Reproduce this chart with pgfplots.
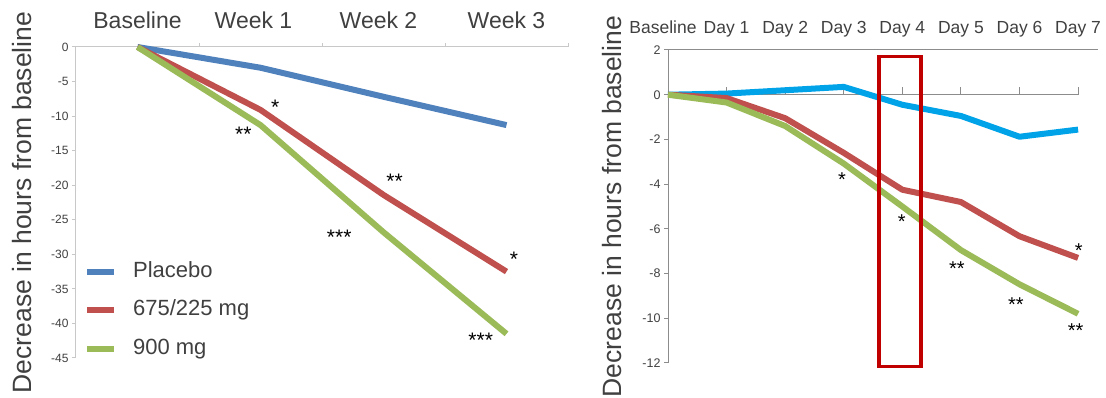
\documentclass[border=0pt]{standalone}
\usepackage{pgfplots}
\pgfplotsset{compat=1.18}
\usepackage{fontspec}
\setmainfont{Liberation Sans}
\definecolor{placeboL}{RGB}{79,129,189}
\definecolor{placeboR}{RGB}{0,162,232}
\definecolor{redser}{RGB}{192,80,77}
\definecolor{greenser}{RGB}{155,187,89}
\definecolor{boxred}{RGB}{192,0,0}
\definecolor{textgray}{RGB}{64,64,64}
\definecolor{axisgrayL}{RGB}{200,200,200}
\definecolor{axisgrayR}{RGB}{140,140,140}
\tikzset{
  ast/.style={font=\fontsize{21}{24}\selectfont, text=black, anchor=center, yshift=-4pt, inner sep=0pt},
}
\begin{document}
\begin{tikzpicture}
\path[use as bounding box] (0,0) rectangle (1106pt,398pt);
% ---------------- LEFT ----------------
\begin{axis}[
  at={(76pt,40pt)}, anchor=south west, scale only axis,
  width=492pt, height=311pt,
  xmin=-0.5, xmax=3.5, ymin=-45, ymax=0,
  axis x line=top, axis y line=left,
  axis line style={-, draw=axisgrayL, line width=1pt},
  xtick={0,1,2,3}, xticklabels={Baseline, Week 1\kern14pt, Week 2\kern10pt, Week 3},
  major x tick style={draw=none},
  minor xtick={0.5,1.5,2.5,3.5},
  minor x tick style={draw=axisgrayL, line width=1pt},
  minor tick length=4pt,
  xticklabel style={font=\fontsize{23}{27}\selectfont, text=textgray, anchor=base, yshift=14pt},
  ytick={-45,-40,...,0},
  y tick style={draw=axisgrayL, line width=1pt},
  major tick length=4pt, tick align=outside,
  yticklabel style={font=\fontsize{12}{14}\selectfont, text=textgray},
  /pgf/number format/assume math mode=true,
  ylabel={Decrease in hours from baseline},
  ylabel style={at={(axis description cs:-0.1098,0.5)}, anchor=center, font=\fontsize{26.5}{30}\selectfont, text=textgray},
  clip=false,
  legend style={at={(axis description cs:0.01,0.153)}, anchor=west, draw=none, fill=none,
    font=\fontsize{22}{25}\selectfont, text=textgray, row sep=15pt, column sep=14pt,
    nodes={inner sep=2pt, text height=15pt, text depth=4.5pt, anchor=west}},
  legend cell align=left,
  legend image code/.code={\draw[#1, line width=6pt] (0pt,0pt) -- (27pt,0pt);},
  every axis plot/.append style={line width=6pt, line join=round},
]
\addplot[placeboL] coordinates {(0,0) (1,-3.0) (2,-7.2) (3,-11.3)};
\addlegendentry{Placebo}
\addplot[redser] coordinates {(0,0) (1,-9.1) (2,-21.4) (3,-32.5)};
\addlegendentry{675/225 mg}
\addplot[greenser] coordinates {(0,0) (1,-11.3) (2,-26.8) (3,-41.5)};
\addlegendentry{900 mg}
\node[ast] at (axis cs:1.12,-8.1) {*};
\node[ast] at (axis cs:0.86,-12.0) {**};
\node[ast] at (axis cs:2.09,-18.8) {**};
\node[ast] at (axis cs:1.64,-26.9) {***};
\node[ast] at (axis cs:3.06,-30.1) {*};
\node[ast] at (axis cs:2.79,-41.8) {***};
\end{axis}
% ---------------- RIGHT: zero line ----------------
\begin{axis}[
  at={(668pt,35pt)}, anchor=south west, scale only axis,
  width=410pt, height=313pt,
  xmin=0, xmax=7, ymin=-12, ymax=2,
  axis x line=middle, axis y line=none,
  axis line style={-, draw=axisgrayR, line width=1pt},
  xtick={1,...,7}, xticklabels={},
  x tick style={draw=axisgrayR, line width=1pt},
  major tick length=8pt, tick align=inside,
  ytick=\empty,
]
\end{axis}
% ---------------- RIGHT: main ----------------
\begin{axis}[
  at={(668pt,35pt)}, anchor=south west, scale only axis,
  width=430pt, height=313pt,
  xmin=0, xmax=7.34, ymin=-12, ymax=2,
  axis x line=top, axis y line=left,
  axis line style={-, draw=axisgrayR, line width=1pt},
  xtick={0,...,7}, xticklabels={Baseline\kern10pt, Day 1, Day 2, Day 3, Day 4, Day 5, Day 6, Day 7},
  major x tick style={draw=none},
  xticklabel style={font=\fontsize{17.5}{21}\selectfont, text=textgray, anchor=base, yshift=12pt},
  ytick={-12,-10,...,2},
  y tick style={draw=axisgrayR, line width=1pt},
  major tick length=4pt, tick align=outside,
  yticklabel style={font=\fontsize{12.5}{14}\selectfont, text=textgray},
  /pgf/number format/assume math mode=true,
  ylabel={Decrease in hours from baseline},
  ylabel style={at={(axis description cs:-0.130,0.5)}, anchor=center, font=\fontsize{26.5}{30}\selectfont, text=textgray},
  clip=false,
  every axis plot/.append style={line width=6pt, line join=round},
]
\addplot[placeboR] coordinates {(0,0) (1,0.05) (2,0.2) (3,0.35) (4,-0.45) (5,-0.95) (6,-1.88) (7,-1.56)};
\addplot[redser] coordinates {(0,0) (1,-0.15) (2,-1.05) (3,-2.6) (4,-4.25) (5,-4.8) (6,-6.33) (7,-7.3)};
\addplot[greenser] coordinates {(0,0) (1,-0.35) (2,-1.4) (3,-3.08) (4,-5.0) (5,-6.95) (6,-8.48) (7,-9.8)};
\node[ast, font=\fontsize{20}{23}\selectfont] at (axis cs:2.97,-3.62) {*};
\node[ast, font=\fontsize{20}{23}\selectfont] at (axis cs:3.99,-5.49) {*};
\node[ast, font=\fontsize{20}{23}\selectfont] at (axis cs:4.93,-7.59) {**};
\node[ast, font=\fontsize{20}{23}\selectfont] at (axis cs:5.94,-9.2) {**};
\node[ast, font=\fontsize{20}{23}\selectfont] at (axis cs:6.96,-10.36) {**};
\node[ast, font=\fontsize{20}{23}\selectfont] at (axis cs:7.01,-6.79) {*};
\draw[boxred, line width=3.5pt] (axis cs:3.6,1.7) rectangle (axis cs:4.32,-12.15);
\end{axis}
\end{tikzpicture}
\end{document}
